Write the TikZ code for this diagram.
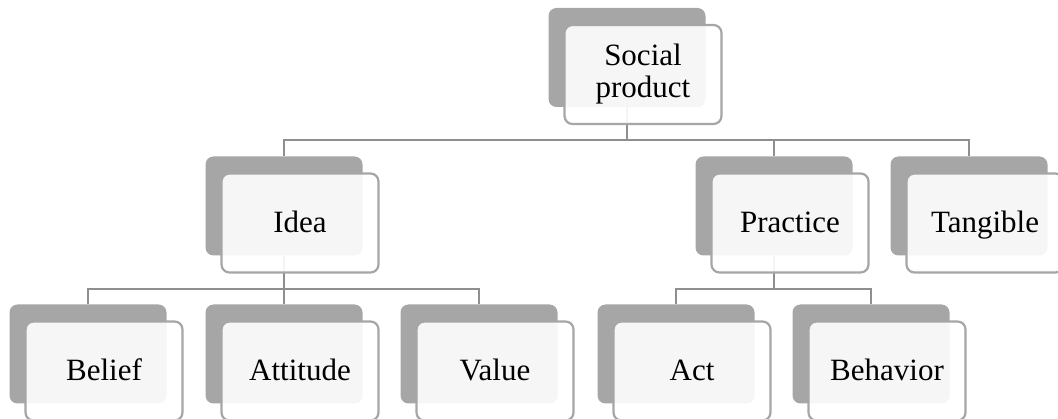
\documentclass[tikz,border=0pt]{standalone}
\usepackage{fontspec}
\setmainfont{Liberation Serif}
\usepackage{tikz}
\usetikzlibrary{positioning}

\definecolor{shade}{HTML}{A6A6A6}
\definecolor{wire}{HTML}{8F8F8F}
\newcommand\cardstrut{\rule[-6pt]{0pt}{31pt}}

\begin{document}
\begin{tikzpicture}[x=1pt,y=1pt]
\tikzstyle{back}=[rectangle, rounded corners=8pt, fill=shade, minimum width=157pt, minimum height=99pt, inner sep=0pt]
\tikzstyle{main}=[rectangle, rounded corners=8pt, draw=shade, line width=2.2pt, fill=white, fill opacity=0.9, text opacity=1, minimum width=157pt, minimum height=99pt, inner sep=0pt, align=center, font=\fontsize{31}{32}\selectfont, execute at begin node=\cardstrut]
\tikzstyle{connect}=[draw=wire, line width=2.2pt]
\useasboundingbox (0,0) rectangle (1058,-419);
% grey backs
\node[back] (socs) at (627,-57.5) {};
\node[back] (ideas) at (284,-206) {};
\node[back] (pracs) at (774,-206) {};
\node[back] (tangs) at (969,-206) {};
\node[back] (bels) at (88,-354) {};
\node[back] (atts) at (284,-354) {};
\node[back] (vals) at (479,-354) {};
\node[back] (acts) at (676,-354) {};
\node[back] (behs) at (871,-354) {};
% tree lines
\draw[connect] (socs.south) -- ++(0,-33) coordinate (bus1);
\draw[connect] (bus1) -| (ideas.north);
\draw[connect] (bus1) -| (pracs.north);
\draw[connect] (bus1) -| (tangs.north);
\draw[connect] (ideas.south) -- ++(0,-33.5) coordinate (bus2);
\draw[connect] (bus2) -| (bels.north);
\draw[connect] (bus2) -| (atts.north);
\draw[connect] (bus2) -| (vals.north);
\draw[connect] (pracs.south) -- ++(0,-33.5) coordinate (bus3);
\draw[connect] (bus3) -| (acts.north);
\draw[connect] (bus3) -| (behs.north);
% front cards
\node[main] (soc) at ([shift={(16,-17)}]socs) {Social\\product};
\node[main] (idea) at ([shift={(16,-17)}]ideas) {Idea};
\node[main] (prac) at ([shift={(16,-17)}]pracs) {Practice};
\node[main] (tang) at ([shift={(16,-17)}]tangs) {Tangible};
\node[main] (bel) at ([shift={(16,-17)}]bels) {Belief};
\node[main] (att) at ([shift={(16,-17)}]atts) {Attitude};
\node[main] (val) at ([shift={(16,-17)}]vals) {Value};
\node[main] (act) at ([shift={(16,-17)}]acts) {Act};
\node[main] (beh) at ([shift={(16,-17)}]behs) {Behavior};
\end{tikzpicture}
\end{document}
